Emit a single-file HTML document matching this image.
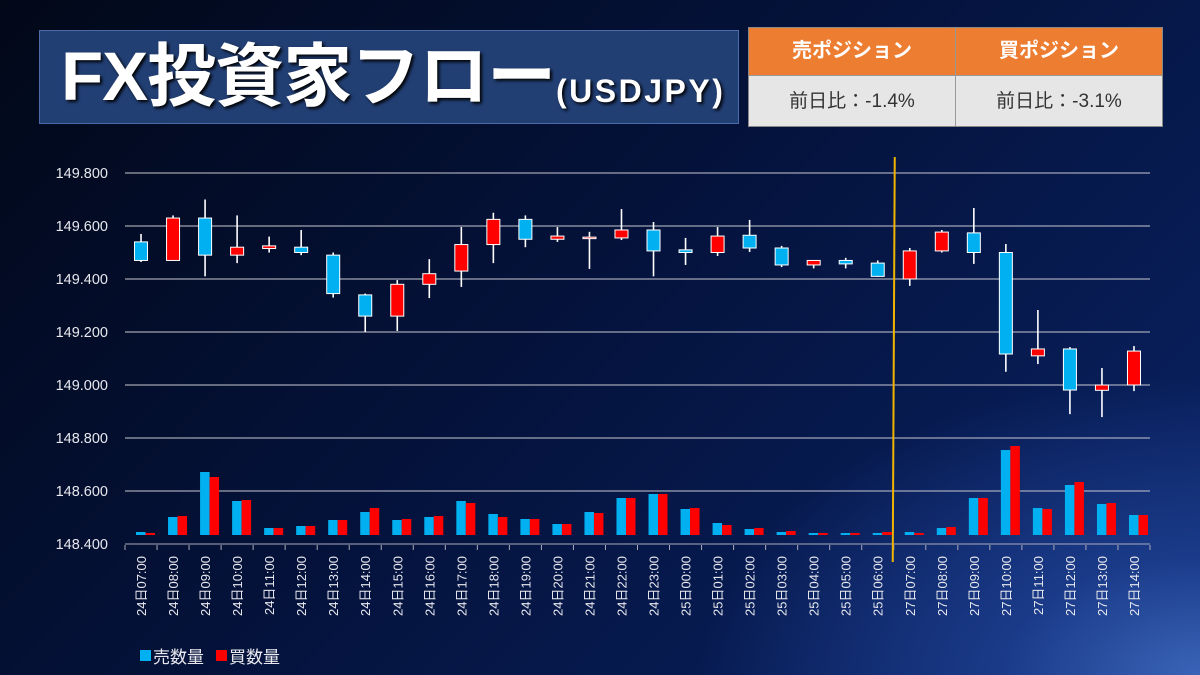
<!DOCTYPE html>
<html><head><meta charset="utf-8">
<style>
body{margin:0;width:1200px;height:675px;overflow:hidden;font-family:"Liberation Sans","Noto Sans CJK JP",sans-serif;}
#bg{position:absolute;left:0;top:0;width:1200px;height:675px;background:radial-gradient(ellipse 500px 300px at 1200px 675px,#3a64b8 0%,#1a3a88 40%,rgba(10,30,90,0) 100%),linear-gradient(135deg,#020818 0%,#04123a 45%,#0a2366 100%);}
#title{position:absolute;left:39px;top:30px;width:700px;height:94px;background:#223f74;border:1px solid #4a6aa8;box-sizing:border-box;color:#fff;font-weight:bold;white-space:nowrap;}
#title .big{position:absolute;left:21px;top:4px;font-size:69px;line-height:84px;font-family:"Liberation Sans","Noto Sans CJK JP",sans-serif;letter-spacing:-1px;text-shadow:2px 2px 3px #000;}
#title .small{position:absolute;left:516px;top:40px;font-size:32px;line-height:40px;letter-spacing:2.5px;text-shadow:2px 2px 3px #000;}
#tbl{position:absolute;left:748px;top:27px;width:415px;height:100px;border:1px solid #888;box-sizing:border-box;}
.cell{position:absolute;text-align:center;box-sizing:border-box;}
.hd{top:0;height:47px;background:#ed7d31;color:#fff;font-weight:bold;font-size:20px;line-height:47px;}
.bd{top:47px;height:51px;background:#e7e6e6;color:#333;font-size:19px;line-height:51px;border-top:1px solid #999;}
</style></head><body>
<div id="bg"></div>
<div id="title"><span class="big">FX投資家フロー</span><span class="small">(USDJPY)</span></div>
<div id="tbl">
<div class="cell hd" style="left:0;width:207px;border-right:1px solid #999">売ポジション</div>
<div class="cell hd" style="left:207px;width:206px">買ポジション</div>
<div class="cell bd" style="left:0;width:207px;border-right:1px solid #999">前日比：-1.4%</div>
<div class="cell bd" style="left:207px;width:206px">前日比：-3.1%</div>
</div>
<svg id="chart" width="1200" height="675" style="position:absolute;left:0;top:0"></svg>
<script>
const categories=["24日07:00","24日08:00","24日09:00","24日10:00","24日11:00","24日12:00","24日13:00","24日14:00","24日15:00","24日16:00","24日17:00","24日18:00","24日19:00","24日20:00","24日21:00","24日22:00","24日23:00","25日00:00","25日01:00","25日02:00","25日03:00","25日04:00","25日05:00","25日06:00","27日07:00","27日08:00","27日09:00","27日10:00","27日11:00","27日12:00","27日13:00","27日14:00"];
const openVals=[149.54,149.47,149.63,149.49,149.515,149.52,149.49,149.34,149.26,149.38,149.43,149.53,149.625,149.55,149.558,149.555,149.585,149.51,149.50,149.565,149.517,149.453,149.47,149.46,149.40,149.506,149.574,149.50,149.11,149.136,148.98,149.0];
const closeVals=[149.47,149.63,149.49,149.52,149.525,149.50,149.345,149.26,149.38,149.42,149.53,149.625,149.55,149.562,149.558,149.585,149.506,149.50,149.562,149.517,149.453,149.47,149.457,149.41,149.506,149.577,149.50,149.117,149.136,148.981,149.0,149.128];
const highVals=[149.57,149.64,149.70,149.64,149.56,149.585,149.50,149.345,149.396,149.475,149.596,149.65,149.64,149.596,149.578,149.664,149.615,149.555,149.596,149.623,149.525,149.47,149.48,149.47,149.517,149.585,149.668,149.532,149.283,149.143,149.064,149.147];
const lowVals=[149.464,149.47,149.41,149.46,149.50,149.49,149.33,149.20,149.204,149.328,149.37,149.46,149.52,149.54,149.438,149.547,149.41,149.453,149.487,149.502,149.445,149.44,149.44,149.408,149.374,149.50,149.457,149.05,149.079,148.89,148.879,148.977];
const sellVol=[3,18,63,34,7,9,15,23,15,18,34,21,16,11,23,37,41,26,12,6,3,2,2,2,3,7,37,85,27,50,31,20];
const buyVol=[2,19,58,35,7,9,15,27,16,19,32,18,16,11,22,37,41,27,10,7,4,2,2,3,2,8,37,89,26,53,32,20];
const yTicks=[149.8,149.6,149.4,149.2,149.0,148.8,148.6,148.4];
const tickLabels=["149.800","149.600","149.400","149.200","149.000","148.800","148.600","148.400"];
const dividerIndex=24;

const svg=document.getElementById('chart');
const NS='http://www.w3.org/2000/svg';
const X0=125,X1=1150,bw=(X1-X0)/categories.length;
const yP=v=>173+(149.8-v)*265;
const xC=i=>X0+bw*(i+0.5);
const volBase=535;
const yV=v=>volBase-v;
function mk(t,a){const e=document.createElementNS(NS,t);for(const k in a)e.setAttribute(k,a[k]);svg.appendChild(e);return e;}
yTicks.forEach((t,i)=>{
  const g=mk('line',{x1:X0,x2:X1,y1:yP(t),y2:yP(t),stroke:i==yTicks.length-1?'#aab':'#c8c8d0','stroke-width':1});
  
  
  const l=mk('text',{x:108,y:yP(t)+5,'text-anchor':'end',fill:'#e8e8ee','font-size':14.5,'font-family':'Liberation Sans, sans-serif'});
  l.textContent=tickLabels[i];
  
  
});
for(let i=0;i<=categories.length;i++){
  const t=mk('line',{x1:X0+bw*i,x2:X0+bw*i,y1:545,y2:550,stroke:'#aab'});
  
  
}
categories.forEach((c,i)=>{
  const cx=xC(i);
  const sb=mk('rect',{x:cx-5,y:yV(sellVol[i]),width:9.5,height:sellVol[i],fill:'#00b0f0'});
  
  
  const bb=mk('rect',{x:cx+4.5,y:yV(buyVol[i]),width:9.5,height:buyVol[i],fill:'#ff0000'});
  
  
  const w=mk('line',{x1:cx,x2:cx,y1:yP(highVals[i]),y2:yP(lowVals[i]),stroke:'#fff','stroke-width':1.6});
  
  
  const up=closeVals[i]>=openVals[i];
  const top=yP(Math.max(openVals[i],closeVals[i])),bot=yP(Math.min(openVals[i],closeVals[i]));
  const b=mk('rect',{x:cx-6.5,y:top,width:13,height:Math.max(bot-top,1.5),fill:up?'#ff0000':'#00b0f0',stroke:'#fff','stroke-width':1});
  
  
  const l=mk('text',{transform:`translate(${cx+5},556) rotate(-90)`,'text-anchor':'end',fill:'#e8e8ee','font-size':13,'font-family':'Liberation Sans, Noto Sans CJK JP, sans-serif'});
  l.textContent=c;
  
  
});
const dx=X0+bw*dividerIndex;
const d=mk('line',{x1:dx+1,x2:dx-1,y1:157,y2:562,stroke:'#f0b400','stroke-width':2});


const l1=mk('rect',{x:140,y:650,width:11,height:11,fill:'#00b0f0'});


const t1=mk('text',{x:153,y:663,fill:'#e8e8ee','font-size':17,'font-family':'Liberation Sans, Noto Sans CJK JP, sans-serif'});t1.textContent='売数量';


const l2=mk('rect',{x:216,y:650,width:11,height:11,fill:'#ff0000'});


const t2=mk('text',{x:229,y:663,fill:'#e8e8ee','font-size':17,'font-family':'Liberation Sans, Noto Sans CJK JP, sans-serif'});t2.textContent='買数量';


</script>
</body></html>
